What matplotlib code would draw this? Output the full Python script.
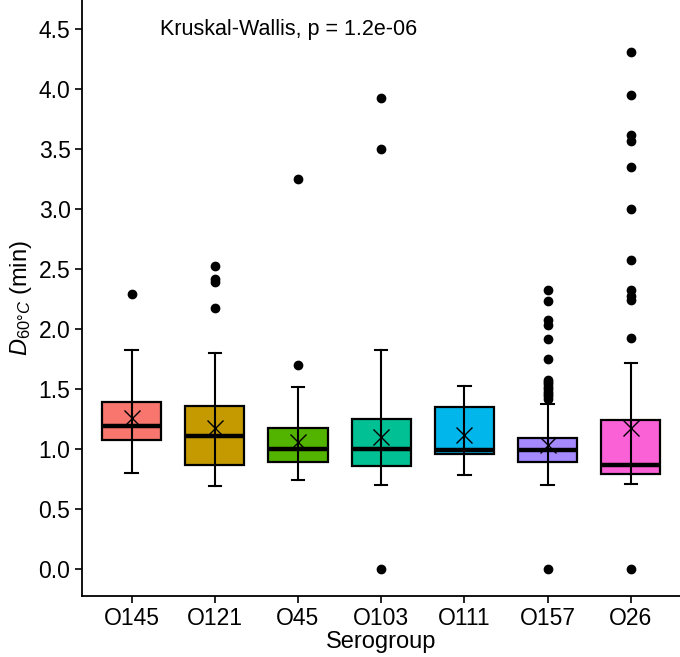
import matplotlib
matplotlib.use("Agg")
import matplotlib.pyplot as plt

plt.rcParams['font.family'] = ['Liberation Sans', 'DejaVu Sans']
plt.rcParams['mathtext.fontset'] = 'custom'
plt.rcParams['mathtext.rm'] = 'Liberation Sans'
plt.rcParams['mathtext.it'] = 'Liberation Sans:italic'

groups = ["O145", "O121", "O45", "O103", "O111", "O157", "O26"]
colors = ["#F8766D", "#C49A00", "#53B400", "#00C094", "#00B6EB", "#A58AFF", "#FB61D7"]
q1 = [1.075, 0.867, 0.89, 0.86, 0.957, 0.897, 0.79]
med = [1.19, 1.113, 1.0, 1.0, 0.995, 0.994, 0.87]
q3 = [1.39, 1.36, 1.18, 1.255, 1.356, 1.09, 1.244]
whislo = [0.805, 0.69, 0.74, 0.70, 0.785, 0.70, 0.71]
whishi = [1.83, 1.80, 1.52, 1.83, 1.53, 1.38, 1.717]
means = [1.26, 1.18, 1.06, 1.105, 1.12, 1.035, 1.18]
fliers = [
    [2.29],
    [2.53, 2.42, 2.39, 2.18],
    [3.25, 1.70],
    [3.93, 3.50, 0.0],
    [],
    [2.33, 2.235, 2.08, 2.035, 1.92, 1.75, 1.58, 1.56, 1.54, 1.52, 1.50, 1.48, 1.46, 1.44, 1.42, 0.0],
    [4.31, 3.95, 3.62, 3.57, 3.35, 3.00, 2.58, 2.33, 2.28, 2.24, 1.93, 0.0],
]
yticks = [0.0, 0.5, 1.0, 1.5, 2.0, 2.5, 3.0, 3.5, 4.0, 4.5]
annot = "Kruskal-Wallis, p = 1.2e-06"

fig = plt.figure(figsize=(6.8, 6.57), dpi=100)
ax = fig.add_axes([0.12, 0.093, 0.88, 0.907])

positions = list(range(1, len(groups) + 1))

# error-bar style whiskers with caps
for i, p in enumerate(positions):
    ax.plot([p, p], [whislo[i], whishi[i]], color='black', lw=1.5, zorder=1)
    ax.plot([p - 0.075, p + 0.075], [whislo[i], whislo[i]], color='black', lw=1.5, zorder=1)
    ax.plot([p - 0.075, p + 0.075], [whishi[i], whishi[i]], color='black', lw=1.5, zorder=1)

stats = []
for i, g in enumerate(groups):
    stats.append(dict(label=g, q1=q1[i], med=med[i], q3=q3[i],
                      whislo=q1[i], whishi=q3[i], fliers=fliers[i], mean=means[i]))

bp = ax.bxp(stats, positions=positions, widths=0.71, patch_artist=True,
            showfliers=True, showcaps=False,
            boxprops=dict(edgecolor='black', linewidth=1.6),
            medianprops=dict(color='black', linewidth=3.2),
            whiskerprops=dict(linewidth=0),
            flierprops=dict(marker='o', markerfacecolor='black', markeredgecolor='black',
                            markersize=6, linestyle='none'),
            manage_ticks=False, zorder=2)
for patch, c in zip(bp['boxes'], colors):
    patch.set_facecolor(c)

# whisker line drawn through box as in reference
for i, p in enumerate(positions):
    ax.plot([p, p], [q1[i], q3[i]], color='black', lw=1.5, zorder=3)

ax.plot(positions, means, linestyle='none', marker='x', markersize=12,
        markeredgewidth=1.0, color='black', zorder=4)

ax.set_xlim(0.4, 7.59)
ax.set_ylim(-0.222, 4.744)
ax.set_xticks(positions)
ax.set_xticklabels(groups)
ax.set_yticks(yticks)
ax.set_yticklabels([f"{v:.1f}" for v in yticks])
ax.tick_params(axis='both', direction='out', length=5, width=1.2, colors='black',
               labelsize=16.5, labelcolor='black', pad=3)
for s in ['top', 'right']:
    ax.spines[s].set_visible(False)
for s in ['left', 'bottom']:
    ax.spines[s].set_linewidth(1.3)
    ax.spines[s].set_color('black')

ax.set_xlabel("Serogroup", fontsize=17, labelpad=1)
ax.set_ylabel(r"$D_{\mathit{60°C}}$ (min)", fontsize=17, labelpad=3)

ax.text(1.34, 4.5, annot, fontsize=15.5, ha='left', va='center')

fig.savefig("out.png", dpi=100)
